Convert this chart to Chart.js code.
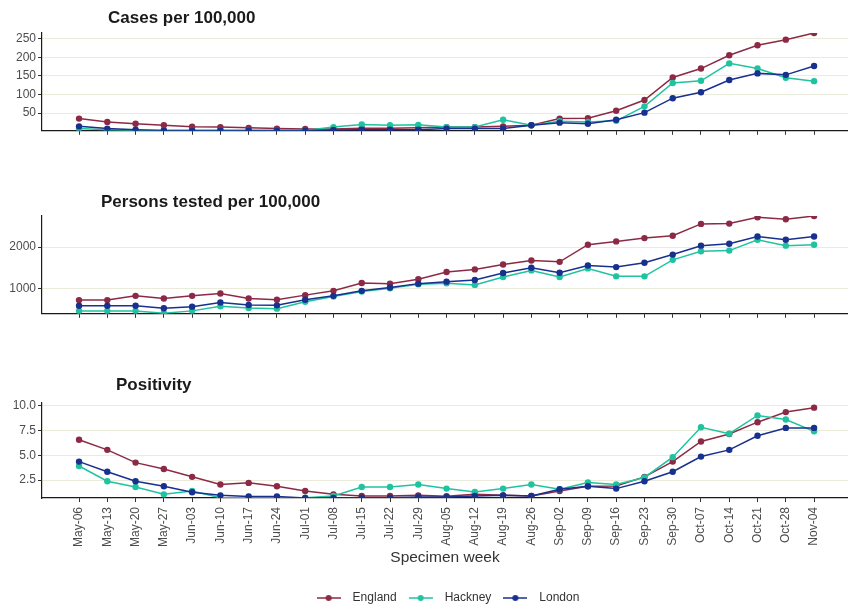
<!DOCTYPE html>
<html>
<head>
<meta charset="utf-8">
<script src="https://cdn.jsdelivr.net/npm/chart.js@4.4.1/dist/chart.umd.min.js"></script>
<style>
  html, body { margin: 0; padding: 0; background: #fff; width: 848px; height: 606px; overflow: hidden; position: relative; }
  canvas { position: absolute; left: 0; }
  .ttl { position: absolute; font: bold 17px "Liberation Sans", Arial, sans-serif; color: #1a1a1a; white-space: nowrap; line-height: 20px; z-index: 2; }
</style>
</head>
<body>
<canvas id="cases" width="848" height="140" style="top:0px"></canvas>
<canvas id="tested" width="848" height="163" style="top:160px"></canvas>
<canvas id="positivity" width="848" height="244" style="top:370px"></canvas>
<div class="ttl" style="left:108px;top:8px">Cases per 100,000</div>
<div class="ttl" style="left:101px;top:192px">Persons tested per 100,000</div>
<div class="ttl" style="left:116px;top:375px">Positivity</div>
<script>
// Specimen weeks (2020)
const weeks = ['May-06','May-13','May-20','May-27','Jun-03','Jun-10','Jun-17','Jun-24','Jul-01','Jul-08',
  'Jul-15','Jul-22','Jul-29','Aug-05','Aug-12','Aug-19','Aug-26','Sep-02','Sep-09','Sep-16','Sep-23',
  'Sep-30','Oct-07','Oct-14','Oct-21','Oct-28','Nov-04'];

// Cases per 100,000
const casesEngland = [35, 26, 21, 17, 13, 12, 10, 8, 7, 7, 9, 9, 10, 12, 12, 14, 17, 35, 36, 56, 85, 146, 170, 206, 233, 248, 266];
const casesHackney = [8, 5, 3, 3, 3, 3, 3, 3, 3, 12, 19, 17, 18, 12, 12, 32, 17, 28, 26, 29, 68, 131, 137, 184, 170, 145, 136];
const casesLondon  = [14, 8, 5, 3, 3, 3, 3, 3, 3, 4, 5, 5, 5, 8, 8, 8, 17, 24, 21, 32, 51, 90, 106, 139, 157, 153, 177];

// Persons tested per 100,000
const testedEngland = [713, 713, 816, 753, 816, 873, 753, 720, 833, 937, 1128, 1112, 1217, 1393, 1457, 1577, 1673, 1641, 2057, 2137, 2217, 2273, 2561, 2569, 2721, 2673, 2753];
const testedHackney = [449, 449, 449, 393, 451, 561, 521, 505, 673, 800, 920, 1000, 1097, 1121, 1081, 1273, 1433, 1273, 1481, 1289, 1289, 1689, 1897, 1913, 2177, 2033, 2057];
const testedLondon  = [577, 577, 577, 513, 553, 657, 593, 585, 720, 816, 937, 1017, 1112, 1160, 1201, 1369, 1497, 1377, 1553, 1513, 1617, 1817, 2033, 2081, 2257, 2177, 2257];

// Positivity (%)
const positivityEngland = [6.58, 5.56, 4.27, 3.62, 2.83, 2.05, 2.22, 1.88, 1.40, 1.06, 0.89, 0.89, 0.96, 0.86, 1.06, 0.96, 0.89, 1.40, 1.88, 1.91, 2.83, 4.37, 6.41, 7.17, 8.36, 9.38, 9.83];
const positivityHackney = [3.93, 2.39, 1.81, 1.06, 1.40, 0.72, 0.72, 0.72, 0.72, 0.89, 1.81, 1.81, 2.05, 1.64, 1.30, 1.64, 2.05, 1.57, 2.26, 2.05, 2.77, 4.82, 7.84, 7.20, 9.04, 8.63, 7.43];
const positivityLondon  = [4.37, 3.35, 2.39, 1.88, 1.27, 0.96, 0.85, 0.85, 0.69, 0.69, 0.72, 0.72, 0.79, 0.79, 0.89, 0.96, 0.89, 1.57, 1.88, 1.64, 2.39, 3.35, 4.88, 5.56, 6.99, 7.78, 7.78];

// Y tick labels for each panel
const casesTicks = [50, 100, 150, 200, 250];
const testedTicks = [1000, 2000];
const positivityTicks = [2.5, 5.0, 7.5, 10.0];

const FONT = '"Liberation Sans", Arial, sans-serif';
const COLORS = { England: '#8c2a45', Hackney: '#1fc3a0', London: '#18308e' };
const AXIS = '#1a1a1a';
const TICK_TEXT = '#4d4d4d';

function toPoints(values) {
  return values.map((v, i) => ({ x: i, y: v }));
}

function makeDatasets(england, hackney, london) {
  const series = [['England', england, 3], ['Hackney', hackney, 2], ['London', london, 1]];
  return series.map(([label, values, order]) => ({
    label,
    data: toPoints(values),
    order,
    borderColor: COLORS[label],
    backgroundColor: COLORS[label],
    pointBackgroundColor: COLORS[label],
    pointBorderWidth: 0,
    pointRadius: 3.2,
    borderWidth: 1.5,
    tension: 0
  }));
}

function xAxis(showLabels, height, extra) {
  return Object.assign({
    type: 'linear',
    min: -1.31,
    max: 27.2,
    afterBuildTicks: ax => { ax.ticks = weeks.map((_, i) => ({ value: i })); },
    afterFit: ax => { ax.height = height; },
    grid: { drawOnChartArea: false, drawTicks: true, tickLength: 4, tickColor: '#333', tickWidth: 1 },
    border: { display: true, color: AXIS, width: 1.2 },
    ticks: {
      display: showLabels, autoSkip: false, minRotation: 90, maxRotation: 90, padding: 5,
      color: TICK_TEXT, font: { family: FONT, size: 12 },
      callback: v => weeks[Math.round(v)]
    }
  }, extra || {});
}

function yAxis(min, max, ticks, fmt) {
  return {
    type: 'linear',
    min, max,
    afterBuildTicks: ax => { ax.ticks = ticks.map(v => ({ value: v })); },
    afterFit: ax => { ax.width = 42; },
    grid: { color: '#ebebdc', lineWidth: 1, drawTicks: true, tickLength: 4, tickColor: '#333', tickWidth: 1 },
    border: { display: true, color: AXIS, width: 1.2 },
    ticks: { padding: 2, color: TICK_TEXT, font: { family: FONT, size: 12 }, callback: fmt }
  };
}

// Legend key: short line with a dot, as on the plotted series
function legendKey(color) {
  const c = document.createElement('canvas');
  c.width = 24; c.height = 8;
  const g = c.getContext('2d');
  g.strokeStyle = color; g.lineWidth = 1.5;
  g.beginPath(); g.moveTo(0, 4); g.lineTo(24, 4); g.stroke();
  g.fillStyle = color;
  g.beginPath(); g.arc(12, 4, 3, 0, Math.PI * 2); g.fill();
  return c;
}
const legendKeys = [legendKey(COLORS.England), legendKey(COLORS.Hackney), legendKey(COLORS.London)];

function panel(id, datasets, x, y, padTop, legend) {
  return new Chart(document.getElementById(id), {
    type: 'line',
    data: { datasets },
    options: {
      responsive: false,
      animation: false,
      devicePixelRatio: 1,
      layout: { autoPadding: false, padding: { top: padTop, left: 0, right: 0, bottom: 0 } },
      scales: { x, y },
      plugins: {
        legend: legend || { display: false },
        tooltip: { enabled: false },
        title: { display: false }
      }
    }
  });
}

panel('cases',
  makeDatasets(casesEngland, casesHackney, casesLondon),
  xAxis(false, 8),
  yAxis(2, 266, casesTicks, v => String(v)),
  33);

panel('tested',
  makeDatasets(testedEngland, testedHackney, testedLondon),
  xAxis(false, 8),
  yAxis(380, 2753, testedTicks, v => String(v)),
  56);

panel('positivity',
  makeDatasets(positivityEngland, positivityHackney, positivityLondon),
  xAxis(true, 88, {
    title: { display: true, text: 'Specimen week', color: '#333', font: { family: FONT, size: 15.5 }, padding: { top: 4, bottom: 19 } }
  }),
  yAxis(0.69, 10.3, positivityTicks, v => v.toFixed(1)),
  33,
  {
    display: true,
    position: 'bottom',
    fullSize: false,
    align: 'center',
    labels: {
      usePointStyle: true,
      pointStyleWidth: 36,
      boxHeight: 12,
      padding: 6,
      color: '#333',
      font: { family: FONT, size: 12 },
      generateLabels: chart => Chart.defaults.plugins.legend.labels.generateLabels(chart)
        .map(item => Object.assign(item, { pointStyle: legendKeys[item.datasetIndex] }))
        .sort((a, b) => a.datasetIndex - b.datasetIndex)
    }
  });
</script>
</body>
</html>
